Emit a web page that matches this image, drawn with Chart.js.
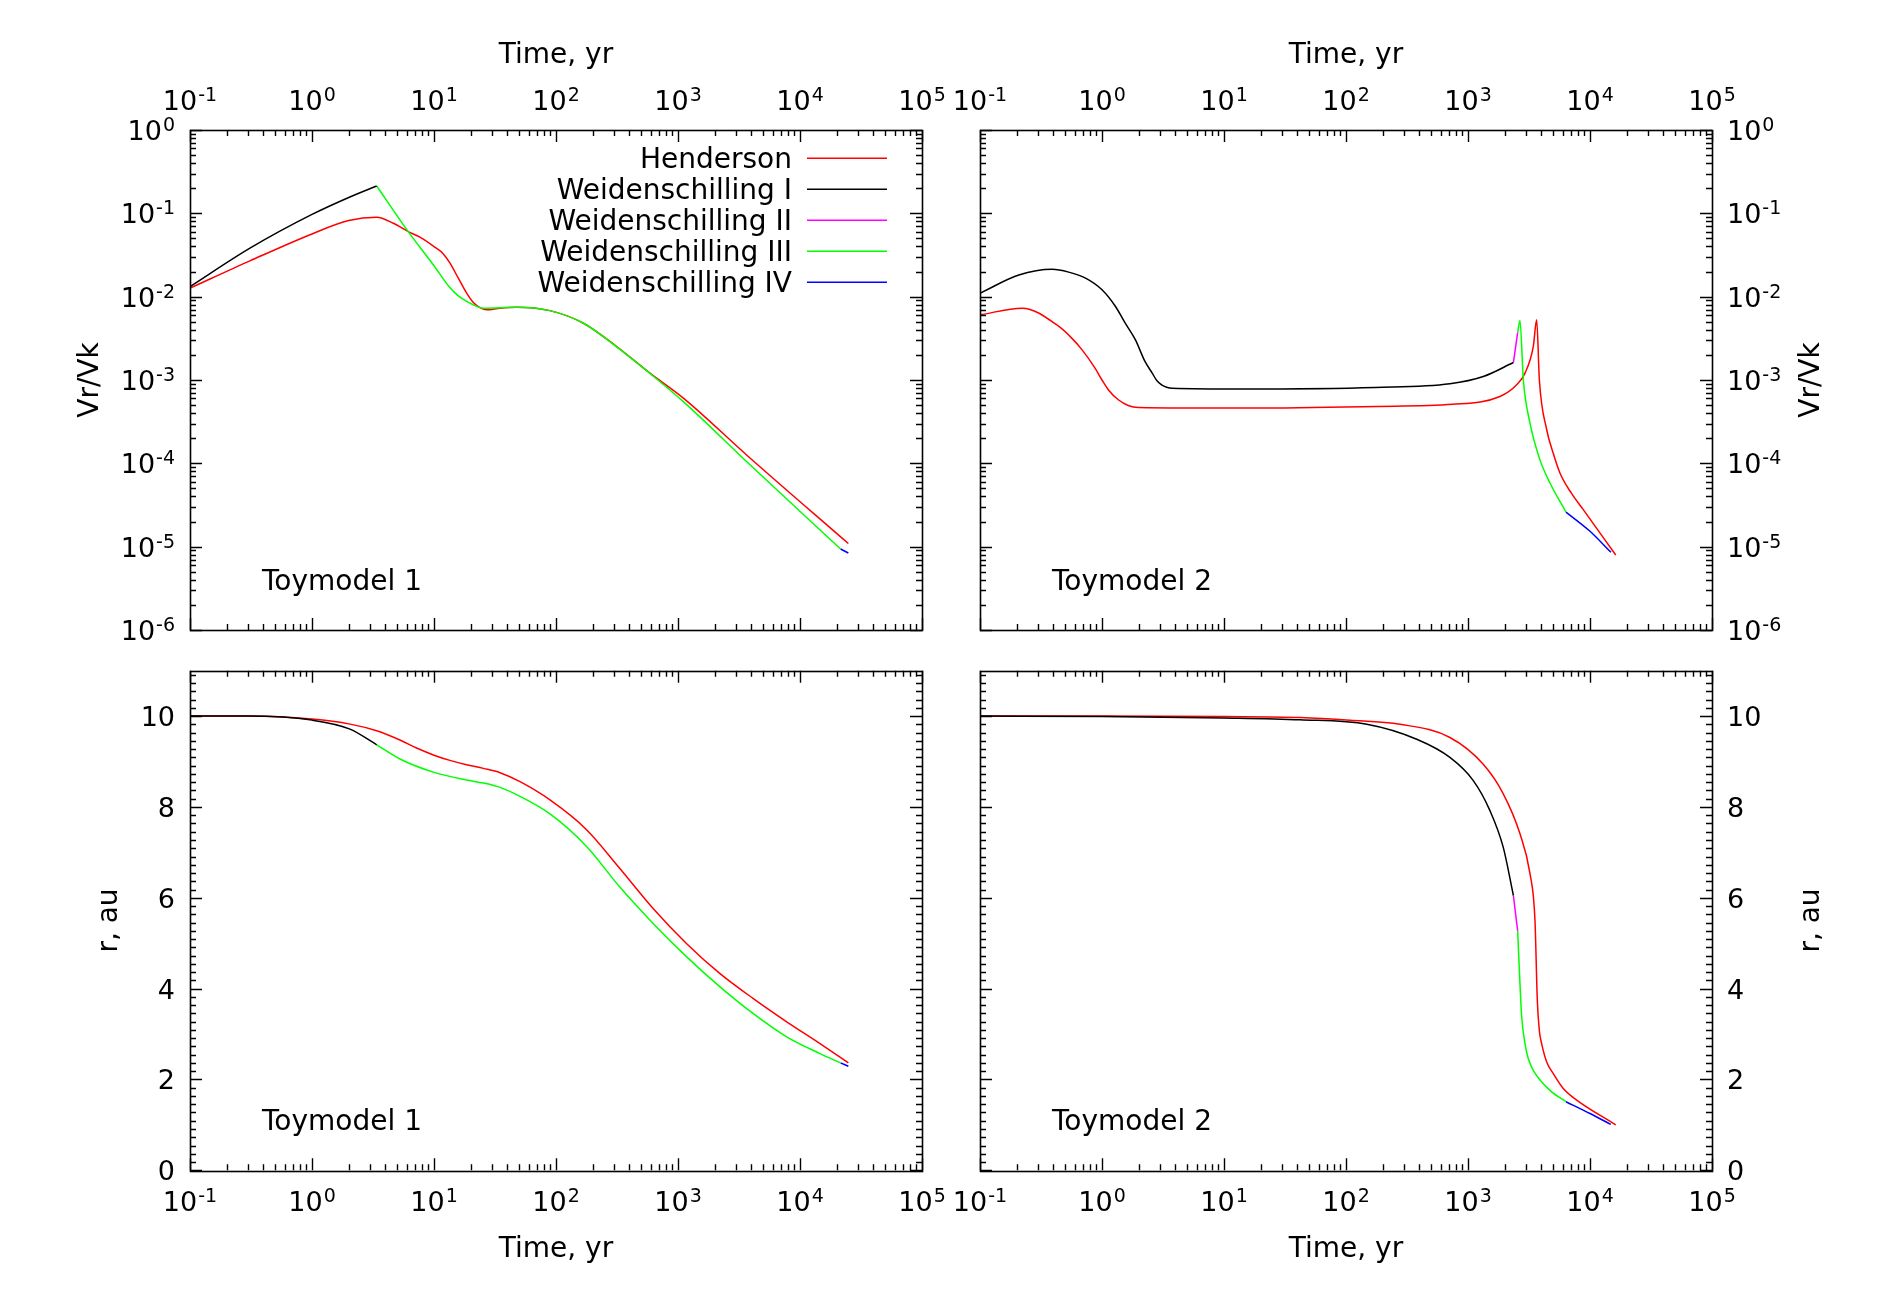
<!DOCTYPE html>
<html>
<head>
<meta charset="utf-8">
<script src="https://cdn.jsdelivr.net/npm/chart.js@4.4.1/dist/chart.umd.min.js"></script>
<style>
html,body{margin:0;padding:0;background:#fff;width:1900px;height:1300px;overflow:hidden}
canvas{position:absolute}
</style>
</head>
<body>
<canvas id="c_tl" width="950" height="650" style="left:0px;top:0px"></canvas>
<canvas id="c_tr" width="950" height="650" style="left:950px;top:0px"></canvas>
<canvas id="c_bl" width="950" height="650" style="left:0px;top:650px"></canvas>
<canvas id="c_br" width="950" height="650" style="left:950px;top:650px"></canvas>
<script>
// ---------- labels ----------
const SERIES_LABELS = ['Henderson','Weidenschilling I','Weidenschilling II','Weidenschilling III','Weidenschilling IV'];
const SERIES_COLORS = ['#ff0000','#000000','#ff00ff','#00ff00','#0000ff'];
const X_TICK_EXPONENTS = ['-1','0','1','2','3','4','5'];
const Y_LOG_TICK_EXPONENTS = ['0','-1','-2','-3','-4','-5','-6'];
const Y_LIN_TICKS = [0,2,4,6,8,10];
const X_TITLE = 'Time, yr';
const Y_TITLE_TOP = 'Vr/Vk';
const Y_TITLE_BOTTOM = 'r, au';
const MODEL_LEFT = 'Toymodel 1';
const MODEL_RIGHT = 'Toymodel 2';

// ---------- Toymodel 1 : Vr/Vk ----------
const TL_HEND_T = [0.1, 0.31, 1, 2, 3.39, 4.64, 6.15, 7.67, 10, 11.93, 13.53, 15.83, 18.53, 21.0, 23.8, 27.0, 34.8, 47.6, 89, 168, 314, 589, 1106, 3890, 24900];
const TL_HEND_V = [0.01264, 0.0269, 0.0566, 0.0818, 0.0898, 0.076, 0.0604, 0.0517, 0.0399, 0.0326, 0.0252, 0.01665, 0.01101, 0.0085, 0.0074, 0.00695, 0.00728, 0.00747, 0.0068, 0.0048, 0.00252, 0.00121, 6.07e-4, 1.16e-4, 1.09e-5];
const TL_W1_T = [0.1, 0.31, 1, 2, 3.39];
const TL_W1_V = [0.0132, 0.0382, 0.097, 0.155, 0.213];
const TL_W2_T = [];
const TL_W2_V = [];
const TL_W3_T = [3.39, 6.15, 10, 13.53, 15.83, 18.53, 25.4, 47.6, 89, 168, 314, 589, 1106, 3890, 21500];
const TL_W3_V = [0.213, 0.0604, 0.0235, 0.0128, 0.01022, 0.0088, 0.00728, 0.00748, 0.0068, 0.0048, 0.0025, 0.0012, 5.5e-4, 9.6e-5, 9.38e-6];
const TL_W4_T = [21500, 24900];
const TL_W4_V = [9.38e-6, 8.4e-6];

// ---------- Toymodel 2 : Vr/Vk ----------
const TR_HEND_T = [0.1, 0.222, 0.443, 0.565, 0.687, 0.877, 1.0, 1.13, 1.36, 1.64, 1.99, 14.1, 174, 750, 1828, 2506, 2933, 3428, 3654, 3846, 4418, 5012, 5680, 7080, 8810, 16250];
const TR_HEND_V = [0.00605, 0.00728, 0.00439, 0.00318, 0.0023, 0.00139, 0.001, 7.6e-4, 5.79e-4, 4.95e-4, 4.69e-4, 4.6e-4, 4.82e-4, 5.1e-4, 6.34e-4, 8.75e-4, 1.21e-3, 2.52e-3, 5.27e-3, 1.0e-3, 2.53e-4, 1.30e-4, 7.6e-5, 4.32e-5, 2.78e-5, 7.94e-6];
const TR_W1_T = [0.1, 0.208, 0.391, 0.533, 0.733, 1.0, 1.29, 1.55, 1.88, 2.25, 2.58, 2.81, 3.08, 3.39, 3.76, 14.1, 174, 711, 1334, 2355];
const TR_W1_V = [0.011, 0.0182, 0.0213, 0.0197, 0.0167, 0.0121, 0.00762, 0.00481, 0.00303, 0.00167, 0.00121, 9.87e-4, 8.75e-4, 8.2e-4, 7.98e-4, 7.8e-4, 8.13e-4, 9.0e-4, 1.10e-3, 1.62e-3];
const TR_W2_T = [2355, 2553];
const TR_W2_V = [1.62e-3, 3.71e-3];
const TR_W3_T = [2553, 2667, 2843, 3222, 3890, 4699, 6354];
const TR_W3_V = [3.71e-3, 5.17e-3, 1.0e-3, 3.04e-4, 1.10e-4, 5.8e-5, 2.6e-5];
const TR_W4_T = [6354, 10000, 14860];
const TR_W4_V = [2.6e-5, 1.53e-5, 8.55e-6];

// ---------- Toymodel 1 : r ----------
const BL_HEND_T = [0.1, 0.3, 1, 2.05, 3.39, 5.26, 7.2, 10, 13.5, 18.5, 25.4, 34.8, 50.7, 89.3, 178, 335, 628, 1178, 2210, 4143, 7780, 14590, 24900];
const BL_HEND_R = [10, 10, 9.934, 9.824, 9.677, 9.473, 9.297, 9.14, 9.026, 8.93, 8.849, 8.754, 8.556, 8.154, 7.50, 6.64, 5.76, 4.99, 4.33, 3.78, 3.27, 2.79, 2.365];
const BL_W1_T = [0.1, 0.3, 1, 2.05, 3.39];
const BL_W1_R = [10, 10, 9.912, 9.714, 9.369];
const BL_W2_T = [];
const BL_W2_R = [];
const BL_W3_T = [3.39, 5.26, 10, 18.5, 25.4, 34.8, 50.7, 89.3, 178, 335, 628, 1178, 2210, 4143, 7780, 14590, 21500];
const BL_W3_R = [9.369, 9.055, 8.761, 8.593, 8.527, 8.431, 8.233, 7.846, 7.13, 6.23, 5.43, 4.70, 4.04, 3.45, 2.94, 2.57, 2.365];
const BL_W4_T = [21500, 24900];
const BL_W4_R = [2.365, 2.29];

// ---------- Toymodel 2 : r ----------
const BR_HEND_T = [0.1, 1, 10, 42, 108, 277, 711, 1334, 1946, 2667, 3222, 3540, 3700, 3841, 4014, 4416, 5000, 6040, 7780, 16250];
const BR_HEND_R = [10, 10, 9.99, 9.97, 9.91, 9.82, 9.53, 8.94, 8.29, 7.41, 6.53, 5.50, 3.74, 3.084, 2.79, 2.387, 2.13, 1.802, 1.545, 1.0];
const BR_W1_T = [0.1, 1, 10, 42, 148, 380, 711, 1105, 1513, 1946, 2355];
const BR_W1_R = [10, 9.99, 9.96, 9.919, 9.82, 9.49, 9.09, 8.58, 7.92, 7.11, 6.05];
const BR_W2_T = [2355, 2553];
const BR_W2_R = [6.05, 5.27];
const BR_W3_T = [2553, 2667, 2754, 2933, 3119, 3428, 4699, 6354];
const BR_W3_R = [5.27, 4.11, 3.38, 2.79, 2.46, 2.20, 1.76, 1.51];
const BR_W4_T = [6354, 10000, 14800];
const BR_W4_R = [1.51, 1.25, 1.01];

// ---------- helpers ----------
const FONT = '"DejaVu Sans", "Liberation Sans", sans-serif';
const TICK = 27, SUP = 19, TEXT = 28;

function pts(t, v) { return t.map((x, i) => ({x: x, y: v[i]})); }

function makeDatasets(list) {
  return list.map((s, i) => ({
    label: SERIES_LABELS[i],
    data: pts(s[0], s[1]),
    borderColor: SERIES_COLORS[i],
    backgroundColor: SERIES_COLORS[i],
    borderWidth: 1.5,
    pointRadius: 0,
    fill: false,
    cubicInterpolationMode: 'monotone',
    order: i === 0 ? 1 : 0
  }));
}

function powLabel(ctx, exp, x, y, align) {
  ctx.font = TICK + 'px ' + FONT;
  const wb = ctx.measureText('10').width;
  ctx.font = SUP + 'px ' + FONT;
  const we = ctx.measureText(exp).width;
  const tot = wb + we + 1;
  let x0 = x;
  if (align === 'center') x0 = x - tot / 2;
  else if (align === 'right') x0 = x - tot;
  ctx.textAlign = 'left';
  ctx.textBaseline = 'alphabetic';
  ctx.font = TICK + 'px ' + FONT;
  ctx.fillText('10', x0, y);
  ctx.font = SUP + 'px ' + FONT;
  ctx.fillText(exp, x0 + wb + 1, y - 9);
}

const gnuplotAxes = {
  id: 'gnuplotAxes',
  afterDatasetsDraw(chart) {
    const o = chart.options.plugins.gnuplotAxes;
    const ctx = chart.ctx, a = chart.chartArea;
    const xs = chart.scales.x, ys = chart.scales.y;
    ctx.save();
    ctx.strokeStyle = '#000';
    ctx.fillStyle = '#000';
    ctx.lineWidth = 1.4;
    ctx.beginPath();
    // x ticks (log), inward on both sides
    for (let k = -1; k <= 5; k++) {
      for (let m = 1; m <= 9; m++) {
        if (k === 5 && m > 1) break;
        const v = m * Math.pow(10, k);
        const px = Math.round(xs.getPixelForValue(v)) + 0.5;
        const L = m === 1 ? 12 : 6;
        ctx.moveTo(px, a.bottom); ctx.lineTo(px, a.bottom - L);
        ctx.moveTo(px, a.top); ctx.lineTo(px, a.top + L);
      }
    }
    // y ticks
    if (o.logY) {
      for (let k = -6; k <= 0; k++) {
        for (let m = 1; m <= 9; m++) {
          if (k === 0 && m > 1) break;
          const v = m * Math.pow(10, k);
          const py = Math.round(ys.getPixelForValue(v)) + 0.5;
          const L = m === 1 ? 12 : 6;
          ctx.moveTo(a.left, py); ctx.lineTo(a.left + L, py);
          ctx.moveTo(a.right, py); ctx.lineTo(a.right - L, py);
        }
      }
    } else {
      for (let k = 0; k <= 60; k++) {
        const v = k * 2 / 11;
        if (v > 11.0001) break;
        const py = Math.round(ys.getPixelForValue(v)) + 0.5;
        ctx.moveTo(a.left, py); ctx.lineTo(a.left + 6, py);
        ctx.moveTo(a.right, py); ctx.lineTo(a.right - 6, py);
      }
      Y_LIN_TICKS.forEach(v => {
        const py = Math.round(ys.getPixelForValue(v)) + 0.5;
        ctx.moveTo(a.left, py); ctx.lineTo(a.left + 12, py);
        ctx.moveTo(a.right, py); ctx.lineTo(a.right - 12, py);
      });
    }
    ctx.stroke();
    // frame
    ctx.lineWidth = 1.6;
    ctx.strokeRect(Math.round(a.left) + 0.5, Math.round(a.top) + 0.5, Math.round(a.right - a.left), Math.round(a.bottom - a.top));

    // x tick labels + title
    const cx = (a.left + a.right) / 2;
    X_TICK_EXPONENTS.forEach(e => {
      const px = xs.getPixelForValue(Math.pow(10, +e));
      const by = o.xSide === 'top' ? a.top - 20 : a.bottom + 40.5;
      powLabel(ctx, e, px, by, 'center');
    });
    ctx.font = TEXT + 'px ' + FONT;
    ctx.textAlign = 'center';
    ctx.textBaseline = 'alphabetic';
    ctx.fillText(X_TITLE, cx, o.xSide === 'top' ? a.top - 67.5 : a.bottom + 87);

    // y tick labels
    const lx = o.ySide === 'left' ? a.left - 15 : a.right + 15;
    const al = o.ySide === 'left' ? 'right' : 'left';
    if (o.logY) {
      Y_LOG_TICK_EXPONENTS.forEach(e => {
        const py = ys.getPixelForValue(Math.pow(10, +e));
        powLabel(ctx, e, lx, py + 10, al);
      });
    } else {
      ctx.font = TICK + 'px ' + FONT;
      ctx.textAlign = al;
      ctx.textBaseline = 'alphabetic';
      Y_LIN_TICKS.forEach(v => {
        const py = ys.getPixelForValue(v);
        ctx.fillText(String(v), lx, py + 10);
      });
    }
    // y title
    const cy = (a.top + a.bottom) / 2;
    let tx;
    if (o.ySide === 'left') tx = a.left - (o.logY ? 99 : 80);
    else tx = a.right + 100;
    ctx.save();
    ctx.translate(tx, cy);
    ctx.rotate(-Math.PI / 2);
    ctx.font = TEXT + 'px ' + FONT;
    ctx.textAlign = 'center';
    ctx.textBaseline = 'middle';
    ctx.fillText(o.logY ? Y_TITLE_TOP : Y_TITLE_BOTTOM, 0, 0);
    ctx.restore();

    // model label
    ctx.font = TEXT + 'px ' + FONT;
    ctx.textAlign = 'left';
    ctx.textBaseline = 'alphabetic';
    ctx.fillText(o.model, a.left + 72, a.bottom - 40);

    // legend (gnuplot style)
    if (o.legend) {
      const ds = chart.data.datasets;
      ds.forEach((d, i) => {
        const ry = a.top + 28.3 + 31 * i;
        ctx.font = TEXT + 'px ' + FONT;
        ctx.textAlign = 'right';
        ctx.fillStyle = '#000';
        ctx.fillText(d.label, a.left + 602, ry + 10);
        ctx.strokeStyle = d.borderColor;
        ctx.lineWidth = 1.5;
        ctx.beginPath();
        ctx.moveTo(a.left + 617, ry);
        ctx.lineTo(a.left + 697, ry);
        ctx.stroke();
      });
    }
    ctx.restore();
  }
};

function makeChart(id, list, opts, pad) {
  return new Chart(document.getElementById(id), {
    type: 'line',
    data: { datasets: makeDatasets(list) },
    options: {
      responsive: false,
      animation: false,
      devicePixelRatio: 1,
      events: [],
      layout: { padding: pad },
      plugins: {
        legend: { display: false },
        tooltip: { enabled: false },
        gnuplotAxes: opts
      },
      scales: {
        x: { type: 'logarithmic', display: false, min: 0.1, max: 1e5 },
        y: opts.logY
          ? { type: 'logarithmic', display: false, min: 1e-6, max: 1 }
          : { type: 'linear', display: false, min: 0, max: 11 }
      }
    },
    plugins: [gnuplotAxes]
  });
}

makeChart('c_tl',
  [[TL_HEND_T, TL_HEND_V], [TL_W1_T, TL_W1_V], [TL_W2_T, TL_W2_V], [TL_W3_T, TL_W3_V], [TL_W4_T, TL_W4_V]],
  { logY: true, xSide: 'top', ySide: 'left', model: MODEL_LEFT, legend: true },
  { left: 190, right: 28, top: 130, bottom: 20 });

makeChart('c_tr',
  [[TR_HEND_T, TR_HEND_V], [TR_W1_T, TR_W1_V], [TR_W2_T, TR_W2_V], [TR_W3_T, TR_W3_V], [TR_W4_T, TR_W4_V]],
  { logY: true, xSide: 'top', ySide: 'right', model: MODEL_RIGHT, legend: false },
  { left: 30, right: 188, top: 130, bottom: 20 });

makeChart('c_bl',
  [[BL_HEND_T, BL_HEND_R], [BL_W1_T, BL_W1_R], [BL_W2_T, BL_W2_R], [BL_W3_T, BL_W3_R], [BL_W4_T, BL_W4_R]],
  { logY: false, xSide: 'bottom', ySide: 'left', model: MODEL_LEFT, legend: false },
  { left: 190, right: 28, top: 20.7, bottom: 129.7 });

makeChart('c_br',
  [[BR_HEND_T, BR_HEND_R], [BR_W1_T, BR_W1_R], [BR_W2_T, BR_W2_R], [BR_W3_T, BR_W3_R], [BR_W4_T, BR_W4_R]],
  { logY: false, xSide: 'bottom', ySide: 'right', model: MODEL_RIGHT, legend: false },
  { left: 30, right: 188, top: 20.7, bottom: 129.7 });
</script>
</body>
</html>
